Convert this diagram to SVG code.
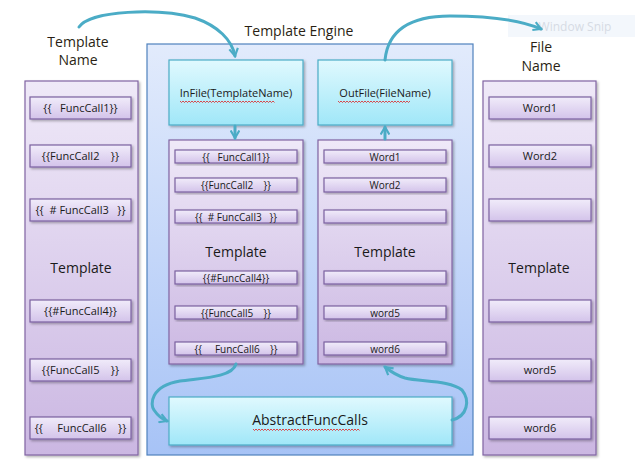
<svg xmlns="http://www.w3.org/2000/svg" width="635" height="473" viewBox="0 0 635 473">
<defs>
<linearGradient id="gCol" x1="0" y1="0" x2="0" y2="1"><stop offset="0" stop-color="#efe9f8"/><stop offset="1" stop-color="#cbb7e2"/></linearGradient>
<linearGradient id="gBox" x1="0" y1="0" x2="0" y2="1"><stop offset="0" stop-color="#f1ecfa"/><stop offset="1" stop-color="#d3c3ea"/></linearGradient>
<linearGradient id="gCyan" x1="0" y1="0" x2="0" y2="1"><stop offset="0" stop-color="#e0f9fe"/><stop offset="1" stop-color="#a0e7f8"/></linearGradient>
<linearGradient id="gEng" x1="0" y1="0" x2="0" y2="1"><stop offset="0" stop-color="#e2ebfc"/><stop offset="1" stop-color="#a7c3f6"/></linearGradient>
<filter id="sh" x="-10%" y="-10%" width="130%" height="130%"><feDropShadow dx="1.5" dy="1.5" stdDeviation="1" flood-color="#000" flood-opacity="0.3"/></filter>
<marker id="ah" viewBox="0 0 10 10" refX="8" refY="5" markerWidth="3.6" markerHeight="3.6" orient="auto" markerUnits="strokeWidth"><path d="M1,1 L8,5 L1,9" fill="none" stroke="#4bacc6" stroke-width="2" stroke-linejoin="miter"/></marker>
<style>
.col{fill:url(#gCol);stroke:#8064a2;stroke-width:1.2;filter:url(#sh)}
.bx{fill:url(#gBox);stroke:#7b61a0;stroke-width:1.2;filter:url(#sh)}
.cy{fill:url(#gCyan);stroke:#4bacc6;stroke-width:1.2;filter:url(#sh)}
.eng{fill:url(#gEng);stroke:#4f81bd;stroke-width:1.2}
.t{font-family:"Open Sans","Liberation Sans",sans-serif;fill:#1a1a1a;text-anchor:middle;white-space:pre}
.s{font-size:10px}
.m{font-size:11px}
.b{font-size:14px}
.h{font-size:14px;fill:#2a1f14}
.c{fill:none;stroke:#4bacc6;stroke-width:3;stroke-linecap:round;marker-end:url(#ah)}
.sq{fill:none;stroke:#e02020;stroke-width:0.8}
</style>
</defs>
<rect width="635" height="473" fill="#fff"/>
<g id="window-snip"><rect x="508" y="15" width="127" height="22" fill="#f3f7fc"/><text class="t" x="575" y="31" font-size="12" style="fill:#d6dbe4">Window Snip</text></g>
<g id="template-name-label"><text class="t h" x="78" y="47">Template</text><text class="t h" x="78" y="65">Name</text></g>
<g id="file-name-label"><text class="t h" x="541" y="52">File</text><text class="t h" x="541" y="71">Name</text></g>
<g id="engine-label"><text class="t h" x="299" y="36">Template Engine</text></g>

<g id="left-template">
<rect class="col" x="25" y="81" width="113" height="374"/>
<text class="t b" x="81" y="273">Template</text>
<rect class="bx" x="30" y="97" width="101" height="22"/><text class="t m" x="80.5" y="112" xml:space="preserve">{{   FuncCall1}}</text>
<rect class="bx" x="30" y="145" width="101" height="22"/><text class="t m" x="80.5" y="160" xml:space="preserve">{{FuncCall2    }}</text>
<rect class="bx" x="30" y="199" width="101" height="22"/><text class="t m" x="80.5" y="214" xml:space="preserve">{{  # FuncCall3   }}</text>
<rect class="bx" x="30" y="300" width="101" height="22"/><text class="t m" x="80.5" y="315">{{#FuncCall4}}</text>
<rect class="bx" x="30" y="359" width="101" height="22"/><text class="t m" x="80.5" y="374" xml:space="preserve">{{FuncCall5    }}</text>
<rect class="bx" x="30" y="417" width="101" height="22"/><text class="t m" x="80.5" y="432" xml:space="preserve">{{     FuncCall6    }}</text>
</g>

<g id="template-engine">
<rect class="eng" x="147" y="44" width="326" height="411"/>
</g>

<g id="infile">
<rect class="cy" x="169" y="60" width="134" height="65"/>
<text class="t m" x="236" y="97">InFile(TemplateName)</text>
<path class="sq" d="M180,101 l1.5,1.5 l1.5,-1.5 l1.5,1.5 l1.5,-1.5 l1.5,1.5 l1.5,-1.5 l1.5,1.5 l1.5,-1.5 l1.5,1.5 l1.5,-1.5 l1.5,1.5 l1.5,-1.5 l1.5,1.5 l1.5,-1.5 l1.5,1.5 l1.5,-1.5 l1.5,1.5 l1.5,-1.5 l1.5,1.5 l1.5,-1.5 l1.5,1.5 l1.5,-1.5 l1.5,1.5 l1.5,-1.5 l1.5,1.5 l1.5,-1.5 l1.5,1.5 l1.5,-1.5 l1.5,1.5 l1.5,-1.5 l1.5,1.5 l1.5,-1.5 l1.5,1.5 l1.5,-1.5 l1.5,1.5 l1.5,-1.5 l1.5,1.5 l1.5,-1.5 l1.5,1.5 l1.5,-1.5 l1.5,1.5 l1.5,-1.5 l1.5,1.5 l1.5,-1.5 l1.5,1.5 l1.5,-1.5 l1.5,1.5 l1.5,-1.5 l1.5,1.5 l1.5,-1.5 l1.5,1.5 l1.5,-1.5 l1.5,1.5 l1.5,-1.5 l1.5,1.5 l1.5,-1.5 l1.5,1.5 l1.5,-1.5 l1.5,1.5 l1.5,-1.5 l1.5,1.5 l1.5,-1.5 l1.5,1.5"/>
</g>

<g id="outfile">
<rect class="cy" x="318" y="60" width="134" height="65"/>
<text class="t m" x="385" y="97">OutFile(FileName)</text>
<path class="sq" d="M338,101 l1.5,1.5 l1.5,-1.5 l1.5,1.5 l1.5,-1.5 l1.5,1.5 l1.5,-1.5 l1.5,1.5 l1.5,-1.5 l1.5,1.5 l1.5,-1.5 l1.5,1.5 l1.5,-1.5 l1.5,1.5 l1.5,-1.5 l1.5,1.5 l1.5,-1.5 l1.5,1.5 l1.5,-1.5 l1.5,1.5 l1.5,-1.5 l1.5,1.5 l1.5,-1.5 l1.5,1.5 l1.5,-1.5 l1.5,1.5 l1.5,-1.5 l1.5,1.5 l1.5,-1.5 l1.5,1.5 l1.5,-1.5 l1.5,1.5 l1.5,-1.5 l1.5,1.5 l1.5,-1.5 l1.5,1.5 l1.5,-1.5 l1.5,1.5 l1.5,-1.5 l1.5,1.5 l1.5,-1.5 l1.5,1.5 l1.5,-1.5 l1.5,1.5 l1.5,-1.5 l1.5,1.5 l1.5,-1.5 l1.5,1.5 l1.5,-1.5"/>
</g>

<g id="engine-template-in">
<rect class="col" x="169" y="140" width="134" height="224"/>
<text class="t b" x="236" y="257">Template</text>
<rect class="bx" x="175" y="150" width="122" height="13"/><text class="t s" x="236" y="160.5" xml:space="preserve">{{   FuncCall1}}</text>
<rect class="bx" x="175" y="178" width="122" height="14"/><text class="t s" x="236" y="189" xml:space="preserve">{{FuncCall2    }}</text>
<rect class="bx" x="175" y="210" width="122" height="13"/><text class="t s" x="236" y="220.5" xml:space="preserve">{{  # FuncCall3   }}</text>
<rect class="bx" x="175" y="271" width="122" height="13"/><text class="t s" x="236" y="281.5">{{#FuncCall4}}</text>
<rect class="bx" x="175" y="306" width="122" height="13"/><text class="t s" x="236" y="316.5" xml:space="preserve">{{FuncCall5    }}</text>
<rect class="bx" x="175" y="342" width="122" height="13"/><text class="t s" x="236" y="352.5" xml:space="preserve">{{     FuncCall6    }}</text>
</g>

<g id="engine-template-out">
<rect class="col" x="318" y="140" width="134" height="224"/>
<text class="t b" x="385" y="257">Template</text>
<rect class="bx" x="324" y="150" width="122" height="13"/><text class="t s" x="385" y="160.5">Word1</text>
<rect class="bx" x="324" y="178" width="122" height="14"/><text class="t s" x="385" y="189">Word2</text>
<rect class="bx" x="324" y="210" width="122" height="13"/>
<rect class="bx" x="324" y="271" width="122" height="13"/>
<rect class="bx" x="324" y="306" width="122" height="13"/><text class="t s" x="385" y="316.5">word5</text>
<rect class="bx" x="324" y="342" width="122" height="13"/><text class="t s" x="385" y="352.5">word6</text>
</g>

<g id="abstract-funccalls">
<rect class="cy" x="169" y="397" width="283" height="48"/>
<text class="t" x="310" y="425" font-size="14">AbstractFuncCalls</text>
<path class="sq" d="M253,429 l1.5,1.5 l1.5,-1.5 l1.5,1.5 l1.5,-1.5 l1.5,1.5 l1.5,-1.5 l1.5,1.5 l1.5,-1.5 l1.5,1.5 l1.5,-1.5 l1.5,1.5 l1.5,-1.5 l1.5,1.5 l1.5,-1.5 l1.5,1.5 l1.5,-1.5 l1.5,1.5 l1.5,-1.5 l1.5,1.5 l1.5,-1.5 l1.5,1.5 l1.5,-1.5 l1.5,1.5 l1.5,-1.5 l1.5,1.5 l1.5,-1.5 l1.5,1.5 l1.5,-1.5 l1.5,1.5 l1.5,-1.5 l1.5,1.5 l1.5,-1.5 l1.5,1.5 l1.5,-1.5 l1.5,1.5 l1.5,-1.5 l1.5,1.5 l1.5,-1.5 l1.5,1.5 l1.5,-1.5 l1.5,1.5 l1.5,-1.5 l1.5,1.5 l1.5,-1.5 l1.5,1.5 l1.5,-1.5 l1.5,1.5 l1.5,-1.5 l1.5,1.5 l1.5,-1.5 l1.5,1.5 l1.5,-1.5 l1.5,1.5 l1.5,-1.5 l1.5,1.5 l1.5,-1.5 l1.5,1.5 l1.5,-1.5 l1.5,1.5 l1.5,-1.5 l1.5,1.5 l1.5,-1.5 l1.5,1.5 l1.5,-1.5 l1.5,1.5 l1.5,-1.5 l1.5,1.5 l1.5,-1.5 l1.5,1.5 l1.5,-1.5 l1.5,1.5"/>
</g>

<g id="right-template">
<rect class="col" x="483" y="81" width="113" height="374"/>
<text class="t b" x="539" y="273">Template</text>
<rect class="bx" x="489" y="97" width="102" height="22"/><text class="t m" x="540" y="112">Word1</text>
<rect class="bx" x="489" y="145" width="102" height="22"/><text class="t m" x="540" y="160">Word2</text>
<rect class="bx" x="489" y="199" width="102" height="22"/>
<rect class="bx" x="489" y="300" width="102" height="22"/>
<rect class="bx" x="489" y="359" width="102" height="22"/><text class="t m" x="540" y="374">word5</text>
<rect class="bx" x="489" y="417" width="102" height="22"/><text class="t m" x="540" y="432">word6</text>
</g>

<g id="connectors">
<path class="c" d="M79,27 C90,10 160,8 195,18 C218,26 232,40 235,56"/>
<path class="c" d="M385,60 C388,30 410,16 450,16 C490,16 520,20 541,29"/>
<path class="c" d="M235,126 L235,138"/>
<path class="c" d="M385,139 L385,127"/>
<path class="c" d="M236,364 C232,378 200,378 180,381 C150,386 150,405 154,410 C158,416 162,419 167,421"/>
<path class="c" d="M452,420 C468,416 470,400 462,390 C450,380 420,382 405,378 C395,375 390,371 385,367"/>
</g>
</svg>
